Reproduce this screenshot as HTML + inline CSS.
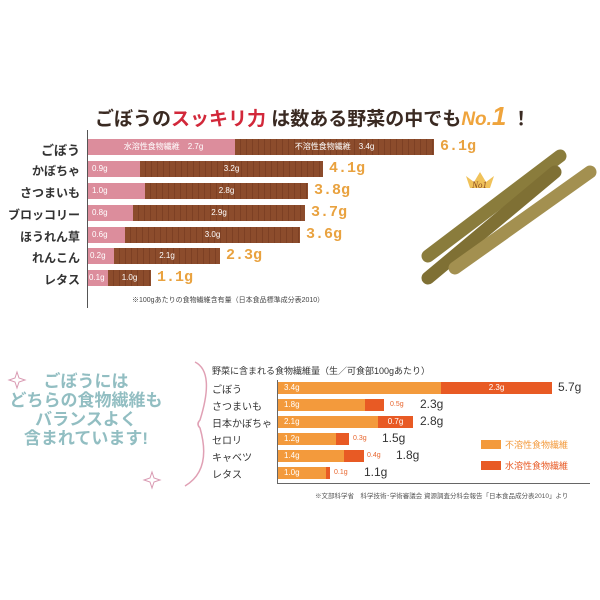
<!DOCTYPE html><html><head><meta charset="utf-8"><style>
body{margin:0;width:600px;height:600px;background:#fff;position:relative;overflow:hidden;font-family:"Liberation Sans","Noto Sans CJK JP",sans-serif}
.a{position:absolute;white-space:nowrap}
.lab{position:absolute;right:520px;font-size:12px;font-weight:bold;color:#333;text-align:right}
.pk{position:absolute;height:16px;background:#dc8d9c;color:#fff;font-size:8px;line-height:16px;padding-left:4px;box-sizing:border-box}
.br{position:absolute;height:16px;background:repeating-linear-gradient(90deg,#8c4c2c 0 5px,#7d4024 5px 6px);color:#fff;font-size:8px;line-height:16px;text-align:center}
.v{position:absolute;font-size:15px;font-weight:bold;color:#e9a23f;font-family:"Liberation Mono","Noto Sans CJK JP",monospace}
.l2{position:absolute;left:212px;font-size:10px;color:#333}
.o{position:absolute;height:12px;background:#f39a3c;color:#fff;font-size:8px;line-height:12px;padding-left:6px;box-sizing:border-box}
.r{position:absolute;height:12px;background:#e85a24;color:#fff;font-size:8px;line-height:12px;text-align:center}
.s{position:absolute;font-size:7px;color:#e8662e}
.t{position:absolute;font-size:12px;color:#333}
</style></head><body>
<div class="a" style="left:95px;top:101px;font-size:19px;font-weight:bold;color:#3a2a22">ごぼうの<span style="color:#d2283a">スッキリ力</span> は数ある野菜の中でも<span style="color:#efa43c;font-style:italic">No.</span><span style="color:#efa43c;font-style:italic;font-size:26px">1</span> ！</div>
<div class="a" style="left:87px;top:130px;width:1px;height:178px;background:#555"></div>
<div class="lab" style="top:140px;font-size:13px">ごぼう</div>
<div class="lab" style="top:162px">かぼちゃ</div>
<div class="lab" style="top:184px">さつまいも</div>
<div class="lab" style="top:206px">ブロッコリー</div>
<div class="lab" style="top:228px">ほうれん草</div>
<div class="lab" style="top:249px">れんこん</div>
<div class="lab" style="top:271px">レタス</div>
<div class="pk" style="left:88px;top:139px;width:147px;text-align:center">水溶性食物繊維　2.7g</div><div class="br" style="left:235px;top:139px;width:199px">不溶性食物繊維　3.4g</div><div class="v" style="left:440px;top:138px">6.1g</div>
<div class="pk" style="left:88px;top:161px;width:52px">0.9g</div><div class="br" style="left:140px;top:161px;width:183px">3.2g</div><div class="v" style="left:329px;top:160px">4.1g</div>
<div class="pk" style="left:88px;top:183px;width:57px">1.0g</div><div class="br" style="left:145px;top:183px;width:163px">2.8g</div><div class="v" style="left:314px;top:182px">3.8g</div>
<div class="pk" style="left:88px;top:205px;width:45px">0.8g</div><div class="br" style="left:133px;top:205px;width:172px">2.9g</div><div class="v" style="left:311px;top:204px">3.7g</div>
<div class="pk" style="left:88px;top:227px;width:37px">0.6g</div><div class="br" style="left:125px;top:227px;width:175px">3.0g</div><div class="v" style="left:306px;top:226px">3.6g</div>
<div class="pk" style="left:88px;top:248px;width:26px;padding-left:2px">0.2g</div><div class="br" style="left:114px;top:248px;width:106px">2.1g</div><div class="v" style="left:226px;top:247px">2.3g</div>
<div class="pk" style="left:88px;top:270px;width:20px;padding-left:1px">0.1g</div><div class="br" style="left:108px;top:270px;width:43px">1.0g</div><div class="v" style="left:157px;top:269px">1.1g</div>
<div class="a" style="left:132px;top:295px;font-size:7px;color:#444">※100gあたりの食物繊維含有量（日本食品標準成分表2010）</div>
<svg class="a" style="left:0;top:0" width="600" height="600">
<g stroke-linecap="round" stroke-width="13">
<line x1="428" y1="256" x2="560" y2="156" stroke="#8a7c3c"/>
<line x1="428" y1="278" x2="555" y2="172" stroke="#7f7034"/>
<line x1="455" y1="268" x2="590" y2="172" stroke="#a39050"/>
</g>
<path d="M466 176 L470 188 L490 188 L494 176 L486 182 L480 172 L474 182 Z" fill="#f0c25a"/>
<text x="472" y="188" font-size="9" fill="#8a4a20" font-style="italic" font-family="Liberation Serif">No1</text>
<path d="M195 362 Q215 372 200 420 Q196 424 200 428 Q212 470 185 486" fill="none" stroke="#e0a0b4" stroke-width="1.5"/>
<path d="M17 372 L19 378 L25 380 L19 382 L17 388 L15 382 L9 380 L15 378 Z" fill="none" stroke="#d99ab2"/>
<path d="M152 472 L154 478 L160 480 L154 482 L152 488 L150 482 L144 480 L150 478 Z" fill="none" stroke="#d99ab2"/>
</svg>
<div class="a" style="left:0;width:172px;top:372px;text-align:center;font-size:17px;font-weight:bold;color:#92bec2;line-height:19px">ごぼうには<br>どちらの食物繊維も<br>バランスよく<br>含まれています!</div>
<div class="a" style="left:212px;top:364px;font-size:9px;color:#333">野菜に含まれる食物繊維量（生／可食部100gあたり）</div>
<div class="a" style="left:277px;top:380px;width:1px;height:103px;background:#666"></div>
<div class="a" style="left:277px;top:483px;width:313px;height:1px;background:#666"></div>
<div class="l2" style="top:381px">ごぼう</div><div class="o" style="left:278px;top:382px;width:163px">3.4g</div><div class="r" style="left:441px;top:382px;width:111px">2.3g</div><div class="t" style="left:558px;top:380px">5.7g</div>
<div class="l2" style="top:398px">さつまいも</div><div class="o" style="left:278px;top:399px;width:87px">1.8g</div><div class="r" style="left:365px;top:399px;width:19px"></div><div class="s" style="left:390px;top:401px">0.5g</div><div class="t" style="left:420px;top:397px">2.3g</div>
<div class="l2" style="top:415px">日本かぼちゃ</div><div class="o" style="left:278px;top:416px;width:100px">2.1g</div><div class="r" style="left:378px;top:416px;width:35px">0.7g</div><div class="t" style="left:420px;top:414px">2.8g</div>
<div class="l2" style="top:432px">セロリ</div><div class="o" style="left:278px;top:433px;width:58px">1.2g</div><div class="r" style="left:336px;top:433px;width:13px"></div><div class="s" style="left:353px;top:435px">0.3g</div><div class="t" style="left:382px;top:431px">1.5g</div>
<div class="l2" style="top:449px">キャベツ</div><div class="o" style="left:278px;top:450px;width:66px">1.4g</div><div class="r" style="left:344px;top:450px;width:20px"></div><div class="s" style="left:367px;top:452px">0.4g</div><div class="t" style="left:396px;top:448px">1.8g</div>
<div class="l2" style="top:466px">レタス</div><div class="o" style="left:278px;top:467px;width:48px">1.0g</div><div class="r" style="left:326px;top:467px;width:4px"></div><div class="s" style="left:334px;top:469px">0.1g</div><div class="t" style="left:364px;top:465px">1.1g</div>
<div class="a" style="left:481px;top:440px;width:20px;height:9px;background:#f39a3c"></div><div class="a" style="left:505px;top:438px;font-size:9px;color:#f39a3c">不溶性食物繊維</div>
<div class="a" style="left:481px;top:461px;width:20px;height:9px;background:#e85a24"></div><div class="a" style="left:505px;top:459px;font-size:9px;color:#e85a24">水溶性食物繊維</div>
<div class="a" style="left:315px;top:490px;font-size:6.5px;color:#555">※文部科学省　科学技術･学術審議会 資源調査分科会報告「日本食品成分表2010」より</div>
</body></html>
